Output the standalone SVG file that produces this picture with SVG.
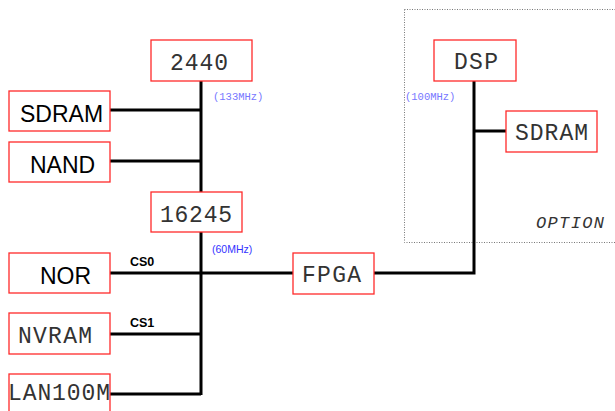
<svg xmlns="http://www.w3.org/2000/svg" width="615" height="411" viewBox="0 0 615 411">
<style>
.box{fill:#fff;stroke:#ff2a2a;stroke-width:1.3}
.mono{font-family:"Liberation Mono","Courier New",monospace;font-size:23px;fill:#333;text-anchor:middle}
.sans{font-family:"Liberation Sans",Arial,sans-serif;font-size:23px;fill:#000}
.bus{stroke:#000;stroke-width:3;fill:none}
.cs{font-family:"Liberation Sans",Arial,sans-serif;font-size:12.5px;font-weight:bold;fill:#000}
.clk{font-family:"Liberation Mono","Courier New",monospace;font-size:10.5px;fill:#7777ff}
</style>
<rect x="404.5" y="9.5" width="220" height="233" fill="none" stroke="#777" stroke-width="1" stroke-dasharray="1,1.5"/>
<g id="connectors">
<path class="bus" d="M201 81V395M110 110H201M110 161H201M110 273H293M110 334H201M110 394H201"/>
<path class="bus" d="M374 273H474V81M474 131H506"/>
</g>
<g id="n2440"><rect class="box" x="151" y="40" width="101" height="41"/><text class="mono" x="199" y="70" textLength="58" lengthAdjust="spacing">2440</text></g>
<g id="sdram1"><rect class="box" x="9" y="91" width="101" height="40"/><text class="sans" x="20" y="122">SDRAM</text></g>
<g id="nand"><rect class="box" x="9" y="142" width="101" height="40"/><text class="sans" x="30" y="173">NAND</text></g>
<g id="n16245"><rect class="box" x="151" y="192" width="91" height="40"/><text class="mono" x="196" y="222" textLength="72" lengthAdjust="spacing">16245</text></g>
<g id="nor"><rect class="box" x="9" y="253" width="101" height="40"/><text class="sans" x="40" y="284">NOR</text></g>
<g id="nvram"><rect class="box" x="9" y="313" width="101" height="41"/><text class="mono" x="55" y="343" textLength="74" lengthAdjust="spacing">NVRAM</text></g>
<g id="lan100m"><rect class="box" x="9" y="374" width="101" height="45"/><text class="mono" x="59" y="400" textLength="102" lengthAdjust="spacing">LAN100M</text></g>
<g id="fpga"><rect class="box" x="293" y="253" width="81" height="41"/><text class="mono" x="331.5" y="282" textLength="59" lengthAdjust="spacing">FPGA</text></g>
<g id="dsp"><rect class="box" x="434" y="40" width="82" height="41"/><text class="mono" x="476" y="69" textLength="44" lengthAdjust="spacing">DSP</text></g>
<g id="sdram2"><rect class="box" x="506" y="111" width="91" height="41"/><text class="mono" x="551.5" y="140" textLength="73" lengthAdjust="spacing">SDRAM</text></g>
<text class="clk" x="213" y="100">(133MHz)</text>
<text class="clk" x="405" y="100">(100MHz)</text>
<text x="212" y="253" font-family="Liberation Sans,Arial,sans-serif" font-size="10.5" fill="#3333ff">(60MHz)</text>
<text class="cs" x="130" y="266">CS0</text>
<text class="cs" x="130" y="327">CS1</text>
<text x="570" y="228" font-family="Liberation Mono,Courier New,monospace" font-size="17" font-style="italic" fill="#333" text-anchor="middle" textLength="68" lengthAdjust="spacing">OPTION</text>
</svg>
